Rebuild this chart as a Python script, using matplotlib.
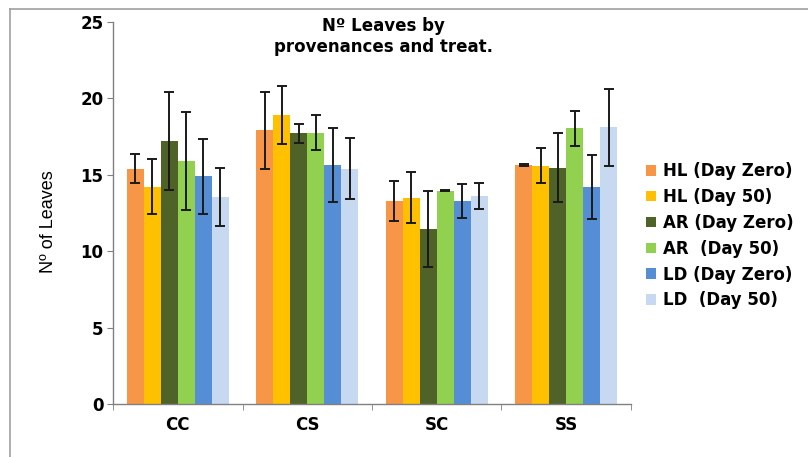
import numpy as np
import matplotlib.pyplot as plt
from matplotlib.lines import Line2D

plt.rcParams['font.family'] = ['DejaVu Sans']

# categories (provenances) and series (treatments)
groups = ['CC', 'CS', 'SC', 'SS']
series = ['HL (Day Zero)', 'HL (Day 50)', 'AR (Day Zero)', 'AR  (Day 50)',
          'LD (Day Zero)', 'LD  (Day 50)']
colors = ['#F79646', '#FFC000', '#4F6228', '#92D050', '#558ED5', '#C6D9F1']

# mean number of leaves, one list per series (CC, CS, SC, SS)
hl_zero = [15.4, 17.9, 13.3, 15.65]
hl_50 = [14.2, 18.9, 13.5, 15.6]
ar_zero = [17.2, 17.7, 11.45, 15.45]
ar_50 = [15.9, 17.75, 13.95, 18.05]
ld_zero = [14.9, 15.65, 13.3, 14.2]
ld_50 = [13.55, 15.4, 13.6, 18.1]

# error bar half-widths
hl_zero_err = [0.95, 2.5, 1.3, 0.05]
hl_50_err = [1.8, 1.9, 1.65, 1.15]
ar_zero_err = [3.2, 0.6, 2.5, 2.25]
ar_50_err = [3.2, 1.15, 0.03, 1.15]
ld_zero_err = [2.45, 2.4, 1.1, 2.1]
ld_50_err = [1.9, 2.0, 0.85, 2.5]

values = [hl_zero, hl_50, ar_zero, ar_50, ld_zero, ld_50]
errors = [hl_zero_err, hl_50_err, ar_zero_err, ar_50_err, ld_zero_err, ld_50_err]

fig = plt.figure(figsize=(8.08, 4.57), dpi=100)
ax = fig.add_axes([0.1399, 0.116, 0.641, 0.836])

x = np.arange(len(groups))
width = 0.79 / len(series)
for i, (vals, errs) in enumerate(zip(values, errors)):
    pos = x - 0.395 + width * (i + 0.5)
    ax.bar(pos, vals, width, color=colors[i], label=series[i], zorder=2)
    ax.errorbar(pos, vals, yerr=errs, fmt='none', ecolor='#1a1a1a',
                elinewidth=1.4, capsize=3.5, capthick=1.4, zorder=3)

ax.set_xlim(-0.5, len(groups) - 0.5)
ax.set_ylim(0, 25)
ax.set_yticks(range(0, 26, 5))
ax.set_xticks(x)
ax.set_xticklabels(groups, fontsize=12, fontweight='bold')
ax.tick_params(axis='x', length=0, pad=9)
# small ticks between categories
ax.set_xticks(np.arange(-0.5, len(groups), 1), minor=True)
ax.tick_params(axis='x', which='minor', length=4, color='#808080')
ax.tick_params(axis='y', length=4, color='#808080', labelsize=12, pad=3)
for lab in ax.get_yticklabels():
    lab.set_fontweight('bold')

for side in ['top', 'right']:
    ax.spines[side].set_visible(False)
for side in ['left', 'bottom']:
    ax.spines[side].set_color('#808080')
    ax.spines[side].set_linewidth(1.0)

ax.set_ylabel('Nº of Leaves', fontsize=13, family=['Liberation Sans', 'DejaVu Sans'])
ax.yaxis.set_label_coords(-0.108, 0.477)

fig.text(383 / 808, 1 - 36.5 / 457, 'Nº Leaves by\nprovenances and treat.',
         ha='center', va='center', fontsize=12, fontweight='bold', linespacing=1.15)

leg = ax.legend(loc='upper left', bbox_to_anchor=(1.0, 0.672), frameon=False,
                handlelength=0.6, handleheight=0.6, handletextpad=0.4,
                labelspacing=0.47, prop={'size': 12, 'weight': 'bold'})

# outer chart frame (top and left edges visible)
fig.add_artist(Line2D([10 / 808, 10 / 808], [0, 1 - 9 / 457], transform=fig.transFigure,
                      color='#a0a0a0', linewidth=1.2))
fig.add_artist(Line2D([10 / 808, 1], [1 - 9 / 457, 1 - 9 / 457], transform=fig.transFigure,
                      color='#a0a0a0', linewidth=1.2))

fig.savefig('out.png', dpi=100)
